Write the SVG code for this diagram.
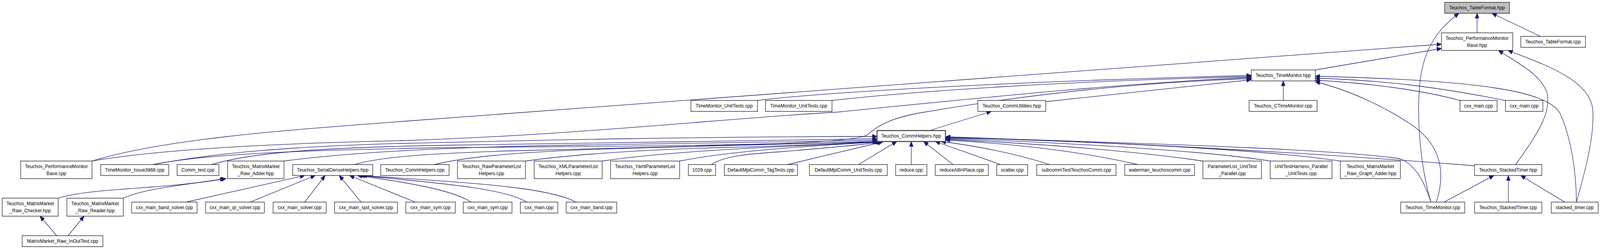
<svg xmlns="http://www.w3.org/2000/svg" width="4400" height="637" viewBox="0 0 4400 637">
<defs>
<marker id="ah" markerUnits="userSpaceOnUse" markerWidth="14" markerHeight="11" viewBox="0 0 14 11" refX="13" refY="5.5" orient="auto">
<path d="M0,0 L13,5.5 L0,11 z" fill="#191970" stroke="#191970" stroke-width="1"/>
</marker>
<style>
.e{fill:none;stroke:#191970;stroke-width:1.3;marker-end:url(#ah);}
.n rect{fill:#fff;stroke:#000;stroke-width:1.2;}
.n text{font-family:"Liberation Sans",Arial,Helvetica,sans-serif;font-size:13px;text-anchor:middle;fill:#000;}
#n_tf_hpp rect{fill:#bfbfbf;}
#n_ch rect{stroke:#404040;stroke-width:2.5;}
</style>
</defs>
<rect width="4400" height="637" fill="#fff"/>
<g id="diagram" transform="scale(0.93091,1)">
<g id="edges">
<path class="e" d="M4062,84 L4062,34"/>
<path class="e" d="M4236,93 L4103,34"/>
<path class="e" d="M3935,517 C3905,420 3895,300 3905,210 C3915,120 3960,70 4012,34"/>
<path class="e" d="M253,412 C450,355 800,332 1100,311 L3964,113"/>
<path class="e" d="M3617,179 L3964,124"/>
<path class="e" d="M4168,421 C4230,340 4265,290 4255,240 C4240,190 4170,160 4121,129"/>
<path class="e" d="M4335,517 C4365,420 4385,340 4380,280 C4372,200 4230,160 4147,129"/>
<path class="e" d="M253,412 C420,385 700,368 1100,360 C1600,345 2000,302 2300,287 C2700,250 3100,212 3441,198"/>
<path class="e" d="M2083,257 C2300,232 2900,205 3441,193"/>
<path class="e" d="M2288,257 C2500,235 2900,208 3441,196"/>
<path class="e" d="M421,421 C560,395 800,385 1200,378 C1800,372 2330,375 2385,345 C2410,325 2440,305 2522,290 C2800,245 3100,212 3441,201"/>
<path class="e" d="M2876,260 L3441,204"/>
<path class="e" d="M3529,257 L3529,207"/>
<path class="e" d="M4015,257 C3900,228 3750,212 3617,205"/>
<path class="e" d="M4140,257 C3950,222 3800,205 3617,200"/>
<path class="e" d="M3950,517 C3980,430 3955,365 3880,318 C3800,268 3700,228 3617,209"/>
<path class="e" d="M4335,517 C4335,440 4320,350 4290,290 C4255,230 4050,205 3617,195"/>
<path class="e" d="M2556,334 L2726,285"/>
<path class="e" d="M421,421 C600,390 800,375 1100,367 C1500,358 1900,350 2412,349"/>
<path class="e" d="M582,421 C700,388 900,378 1200,372 C1700,364 2100,360 2412,355"/>
<path class="e" d="M781,412 C1000,385 1300,375 1600,371 C2000,366 2250,362 2412,359"/>
<path class="e" d="M975,421 C1050,400 1200,392 1400,386 C1800,376 2200,366 2413,362"/>
<path class="e" d="M1195,421 C1300,396 1500,386 1700,380 C2000,372 2300,366 2416,362"/>
<path class="e" d="M1445,412 C1600,392 1800,382 2000,377 C2200,372 2350,366 2418,362"/>
<path class="e" d="M1656,412 C1800,392 2000,380 2420,363"/>
<path class="e" d="M1869,412 C2000,388 2200,374 2422,363"/>
<path class="e" d="M1956,421 C1990,400 2050,394 2150,388 C2280,378 2380,370 2424,363"/>
<path class="e" d="M2166,421 C2250,402 2350,380 2428,363"/>
<path class="e" d="M2361,421 L2466,362"/>
<path class="e" d="M2506,421 L2506,362"/>
<path class="e" d="M2621,421 L2540,362"/>
<path class="e" d="M2752,421 L2572,362"/>
<path class="e" d="M2887,421 C2800,395 2700,375 2588,362"/>
<path class="e" d="M3129,421 C2950,382 2750,366 2600,358"/>
<path class="e" d="M3308,412 C3150,390 2900,370 2600,356"/>
<path class="e" d="M3493,412 C3350,390 3000,367 2600,354"/>
<path class="e" d="M3686,412 C3500,386 3100,364 2600,352"/>
<path class="e" d="M4055,424 C3700,398 3200,368 2600,350"/>
<path class="e" d="M3935,517 C3915,460 3890,420 3850,406 C3700,385 3300,370 2600,351"/>
<path class="e" d="M160,507 C250,480 450,485 618,457"/>
<path class="e" d="M339,507 C400,482 500,474 622,457"/>
<path class="e" d="M512,517 L838,449"/>
<path class="e" d="M688,517 L867,449"/>
<path class="e" d="M838,517 L894,449"/>
<path class="e" d="M993,517 L933,449"/>
<path class="e" d="M1142,517 L961,449"/>
<path class="e" d="M1296,517 C1250,490 1150,470 983,449"/>
<path class="e" d="M1449,517 C1380,480 1200,468 990,449"/>
<path class="e" d="M1584,517 C1500,475 1250,466 996,449"/>
<path class="e" d="M156,603 L110,553"/>
<path class="e" d="M187,603 L231,553"/>
<path class="e" d="M3971,517 L4108,449"/>
<path class="e" d="M4148,517 L4148,449"/>
<path class="e" d="M4303,517 L4182,449"/>
</g>
<g id="n_tf_hpp" class="n"><rect x="3973" y="6" width="178" height="28"/><text x="4062" y="24">Teuchos_TableFormat.hpp</text></g>
<g id="n_pmb_hpp" class="n"><rect x="3964" y="84" width="196" height="45"/><text x="4062" y="102">Teuchos_PerformanceMonitor</text><text x="4062" y="120">Base.hpp</text></g>
<g id="n_tf_cpp" class="n"><rect x="4182" y="93" width="178" height="28"/><text x="4271" y="111">Teuchos_TableFormat.cpp</text></g>
<g id="n_tm_hpp" class="n"><rect x="3441" y="179" width="176" height="28"/><text x="3529" y="197">Teuchos_TimeMonitor.hpp</text></g>
<g id="n_ut1" class="n"><rect x="1900" y="257" width="183" height="28"/><text x="1991.5" y="275">TimeMonitor_UnitTests.cpp</text></g>
<g id="n_ut2" class="n"><rect x="2105" y="257" width="183" height="28"/><text x="2196.5" y="275">TimeMonitor_UnitTests.cpp</text></g>
<g id="n_cu" class="n"><rect x="2689" y="257" width="187" height="28"/><text x="2782.5" y="275">Teuchos_CommUtilities.hpp</text></g>
<g id="n_ctm" class="n"><rect x="3435" y="257" width="187" height="28"/><text x="3528.5" y="275">Teuchos_CTimeMonitor.cpp</text></g>
<g id="n_cm1" class="n"><rect x="4015" y="257" width="102" height="28"/><text x="4066" y="275">cxx_main.cpp</text></g>
<g id="n_cm2" class="n"><rect x="4140" y="257" width="103" height="28"/><text x="4191.5" y="275">cxx_main.cpp</text></g>
<g id="n_ch" class="n"><rect x="2412" y="334" width="188" height="28"/><text x="2506" y="352">Teuchos_CommHelpers.hpp</text></g>
<g id="n_pmb_cpp" class="n"><rect x="57" y="412" width="196" height="45"/><text x="155" y="430">Teuchos_PerformanceMonitor</text><text x="155" y="448">Base.cpp</text></g>
<g id="n_issue" class="n"><rect x="277" y="421" width="187" height="28"/><text x="370.5" y="439">TimeMonitor_Issue3868.cpp</text></g>
<g id="n_commtest" class="n"><rect x="487" y="421" width="115" height="28"/><text x="544.5" y="439">Comm_test.cpp</text></g>
<g id="n_rawadder" class="n"><rect x="626" y="412" width="155" height="45"/><text x="703.5" y="430">Teuchos_MatrixMarket</text><text x="703.5" y="448">_Raw_Adder.hpp</text></g>
<g id="n_sdh" class="n"><rect x="805" y="421" width="220" height="28"/><text x="915" y="439">Teuchos_SerialDenseHelpers.hpp</text></g>
<g id="n_chcpp" class="n"><rect x="1047" y="421" width="188" height="28"/><text x="1141" y="439">Teuchos_CommHelpers.cpp</text></g>
<g id="n_rawplh" class="n"><rect x="1258" y="412" width="187" height="45"/><text x="1351.5" y="430">Teuchos_RawParameterList</text><text x="1351.5" y="448">Helpers.cpp</text></g>
<g id="n_xmlplh" class="n"><rect x="1469" y="412" width="187" height="45"/><text x="1562.5" y="430">Teuchos_XMLParameterList</text><text x="1562.5" y="448">Helpers.cpp</text></g>
<g id="n_yamlplh" class="n"><rect x="1679" y="412" width="190" height="45"/><text x="1774" y="430">Teuchos_YamlParameterList</text><text x="1774" y="448">Helpers.cpp</text></g>
<g id="n_1029" class="n"><rect x="1893" y="421" width="75" height="28"/><text x="1930.5" y="439">1029.cpp</text></g>
<g id="n_tagtests" class="n"><rect x="1992" y="421" width="201" height="28"/><text x="2092.5" y="439">DefaultMpiComm_TagTests.cpp</text></g>
<g id="n_dmcut" class="n"><rect x="2226" y="421" width="214" height="28"/><text x="2333" y="439">DefaultMpiComm_UnitTests.cpp</text></g>
<g id="n_reduce" class="n"><rect x="2463" y="421" width="86" height="28"/><text x="2506" y="439">reduce.cpp</text></g>
<g id="n_reduceall" class="n"><rect x="2572" y="421" width="146" height="28"/><text x="2645" y="439">reduceAllInPlace.cpp</text></g>
<g id="n_scatter" class="n"><rect x="2741" y="421" width="85" height="28"/><text x="2783.5" y="439">scatter.cpp</text></g>
<g id="n_subcomm" class="n"><rect x="2851" y="421" width="218" height="28"/><text x="2960" y="439">subcommTestTeuchosComm.cpp</text></g>
<g id="n_waterman" class="n"><rect x="3093" y="421" width="192" height="28"/><text x="3189" y="439">waterman_teuchoscomm.cpp</text></g>
<g id="n_plut" class="n"><rect x="3308" y="412" width="161" height="45"/><text x="3388.5" y="430">ParameterList_UnitTest</text><text x="3388.5" y="448">_Parallel.cpp</text></g>
<g id="n_uth" class="n"><rect x="3493" y="412" width="170" height="45"/><text x="3578" y="430">UnitTestHarness_Parallel</text><text x="3578" y="448">_UnitTests.cpp</text></g>
<g id="n_rawgraph" class="n"><rect x="3686" y="412" width="165" height="45"/><text x="3768.5" y="430">Teuchos_MatrixMarket</text><text x="3768.5" y="448">_Raw_Graph_Adder.hpp</text></g>
<g id="n_sth" class="n"><rect x="4055" y="421" width="185" height="28"/><text x="4147.5" y="439">Teuchos_StackedTimer.hpp</text></g>
<g id="n_checker" class="n"><rect x="6" y="507" width="154" height="46"/><text x="83" y="525">Teuchos_MatrixMarket</text><text x="83" y="543">_Raw_Checker.hpp</text></g>
<g id="n_reader" class="n"><rect x="184" y="507" width="155" height="46"/><text x="261.5" y="525">Teuchos_MatrixMarket</text><text x="261.5" y="543">_Raw_Reader.hpp</text></g>
<g id="n_bandsolver" class="n"><rect x="362" y="517" width="180" height="28"/><text x="452" y="535">cxx_main_band_solver.cpp</text></g>
<g id="n_qr" class="n"><rect x="565" y="517" width="162" height="28"/><text x="646" y="535">cxx_main_qr_solver.cpp</text></g>
<g id="n_solver" class="n"><rect x="751" y="517" width="146" height="28"/><text x="824" y="535">cxx_main_solver.cpp</text></g>
<g id="n_spd" class="n"><rect x="920" y="517" width="173" height="28"/><text x="1006.5" y="535">cxx_main_spd_solver.cpp</text></g>
<g id="n_sym1" class="n"><rect x="1116" y="517" width="136" height="28"/><text x="1184" y="535">cxx_main_sym.cpp</text></g>
<g id="n_sym2" class="n"><rect x="1274" y="517" width="134" height="28"/><text x="1341" y="535">cxx_main_sym.cpp</text></g>
<g id="n_cm3" class="n"><rect x="1431" y="517" width="103" height="28"/><text x="1482.5" y="535">cxx_main.cpp</text></g>
<g id="n_band" class="n"><rect x="1557" y="517" width="139" height="28"/><text x="1626.5" y="535">cxx_main_band.cpp</text></g>
<g id="n_tmcpp" class="n"><rect x="3852" y="517" width="176" height="28"/><text x="3940" y="535">Teuchos_TimeMonitor.cpp</text></g>
<g id="n_stcpp" class="n"><rect x="4055" y="517" width="185" height="28"/><text x="4147.5" y="535">Teuchos_StackedTimer.cpp</text></g>
<g id="n_stacked" class="n"><rect x="4266" y="517" width="129" height="28"/><text x="4330.5" y="535">stacked_timer.cpp</text></g>
<g id="n_inout" class="n"><rect x="61" y="603" width="222" height="28"/><text x="172" y="621">MatrixMarket_Raw_InOutTest.cpp</text></g>
</g>
</svg>
